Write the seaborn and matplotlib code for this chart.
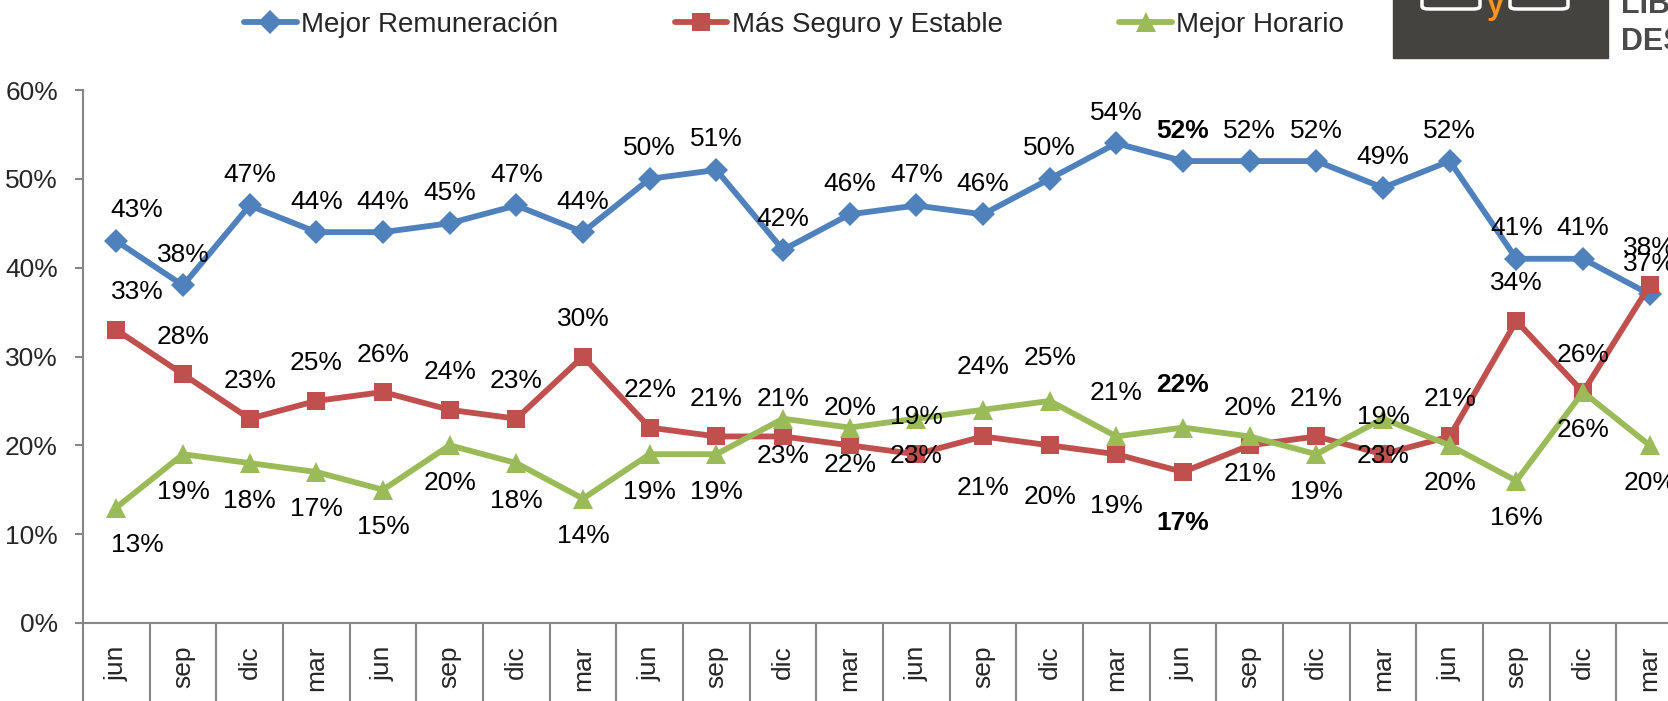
import matplotlib
matplotlib.use("Agg")
import matplotlib.pyplot as plt
from matplotlib.patches import Rectangle, FancyBboxPatch
import pandas as pd
import seaborn as sns
import numpy as np

# periodos (trimestres) del eje x
periodos = ["jun", "sep", "dic", "mar", "jun", "sep", "dic", "mar",
            "jun", "sep", "dic", "mar", "jun", "sep", "dic", "mar",
            "jun", "sep", "dic", "mar", "jun", "sep", "dic", "mar"]

series = ["Mejor Remuneración", "Más Seguro y Estable", "Mejor Horario"]

# porcentajes por serie
remuneracion = [43, 38, 47, 44, 44, 45, 47, 44, 50, 51, 42, 46,
                47, 46, 50, 54, 52, 52, 52, 49, 52, 41, 41, 37]
seguro = [33, 28, 23, 25, 26, 24, 23, 30, 22, 21, 21, 20,
          19, 21, 20, 19, 17, 20, 21, 19, 21, 34, 26, 38]
horario = [13, 19, 18, 17, 15, 20, 18, 14, 19, 19, 23, 22,
           23, 24, 25, 21, 22, 21, 19, 23, 20, 16, 26, 20]

colores = ["#4F81BD", "#C0504D", "#9BBB59"]
marcadores = ["D", "s", "^"]
tam_marcador = [12, 13, 14]

sns.set_style("white")
plt.rcParams["font.family"] = ["Liberation Sans", "DejaVu Sans"]
FS = 19

df = pd.DataFrame({
    "pos": np.tile(np.arange(len(periodos)), 3),
    "valor": remuneracion + seguro + horario,
    "serie": np.repeat(series, len(periodos)),
})

fig = plt.figure(figsize=(16.68, 7.01), dpi=100)
ax = fig.add_axes([83 / 1668, 1 - 623 / 701, 1600 / 1668, 533 / 701])

handles = []
for serie, color, m, ms in zip(series, colores, marcadores, tam_marcador):
    sub = df[df["serie"] == serie]
    sns.lineplot(data=sub, x="pos", y="valor", ax=ax, color=color, marker=m,
                 markersize=ms, markeredgewidth=0, linewidth=4.2, label=serie,
                 legend=False)
    handles.append(ax.lines[-1])

# etiquetas de datos (azul y rojo arriba, verde abajo salvo un tramo)
def etiqueta(i, v, dy, dx=0):
    ax.annotate(f"{v}%", (i, v), xytext=(dx, dy), textcoords="offset points",
                ha="center", va="center", fontsize=FS,
                fontweight="bold" if i == 16 else "normal", color="black")

for i, v in enumerate(remuneracion):
    etiqueta(i, v, 22, 15 if i == 0 else 0)
for i, v in enumerate(seguro):
    dy = -37 if 13 <= i <= 16 else 27
    etiqueta(i, v, dy, 15 if i == 0 else 0)
for i, v in enumerate(horario):
    dy = 31 if 13 <= i <= 16 else -27
    etiqueta(i, v, dy, 15 if i == 0 else 0)

ax.set_xlim(-0.5, len(periodos) - 0.5)
ax.set_ylim(0, 60)
ax.set_yticks(range(0, 61, 10))
ax.set_yticklabels([f"{t}%" for t in range(0, 61, 10)], fontsize=FS)
ax.set_xticks(range(len(periodos)))
ax.set_xticklabels(periodos, rotation=90, fontsize=FS)
ax.set_xticks(np.arange(-0.5, len(periodos), 1), minor=True)
ax.tick_params(axis="x", which="major", length=0, pad=16, bottom=True)
ax.tick_params(axis="x", which="minor", length=60, width=1.5, color="#868686",
               bottom=True, direction="out")
ax.tick_params(axis="y", length=6, width=1.5, color="#868686", direction="out",
               pad=12, left=True)
ax.set_xlabel("")
ax.set_ylabel("")
for s in ["top", "right"]:
    ax.spines[s].set_visible(False)
for s in ["left", "bottom"]:
    ax.spines[s].set_color("#868686")
    ax.spines[s].set_linewidth(1.5)
ax.grid(False)

fig.legend(handles, series, loc="center", bbox_to_anchor=(0.476, 0.965),
           ncol=3, frameon=False, fontsize=20, handlelength=1.9,
           handletextpad=0.15, columnspacing=4.2)

# logo recortado arriba a la derecha
fig.patches.append(Rectangle((1393 / 1668, 1 - 58 / 701), 215 / 1668, 60 / 701,
                             transform=fig.transFigure, color="#45433F", zorder=0))
for x0, x1 in [(1422, 1480), (1510, 1568)]:
    fig.patches.append(FancyBboxPatch((x0 / 1668, 1 - 9 / 701), (x1 - x0) / 1668, 20 / 701,
                                      boxstyle="round,pad=0,rounding_size=0.004",
                                      transform=fig.transFigure, facecolor="none",
                                      edgecolor="white", linewidth=2.5))
fig.text(1495 / 1668, 1 - 6 / 701, "y", color="#F7941D", fontsize=22,
         fontweight="bold", ha="center", va="center")
fig.text(1621 / 1668, 1 - 5 / 701, "LIBE", color="#4A4A4A", fontsize=22,
         fontweight="bold", ha="left", va="center")
fig.text(1621 / 1668, 1 - 42 / 701, "DES", color="#4A4A4A", fontsize=22,
         fontweight="bold", ha="left", va="center")

fig.savefig("out.png", dpi=100)
